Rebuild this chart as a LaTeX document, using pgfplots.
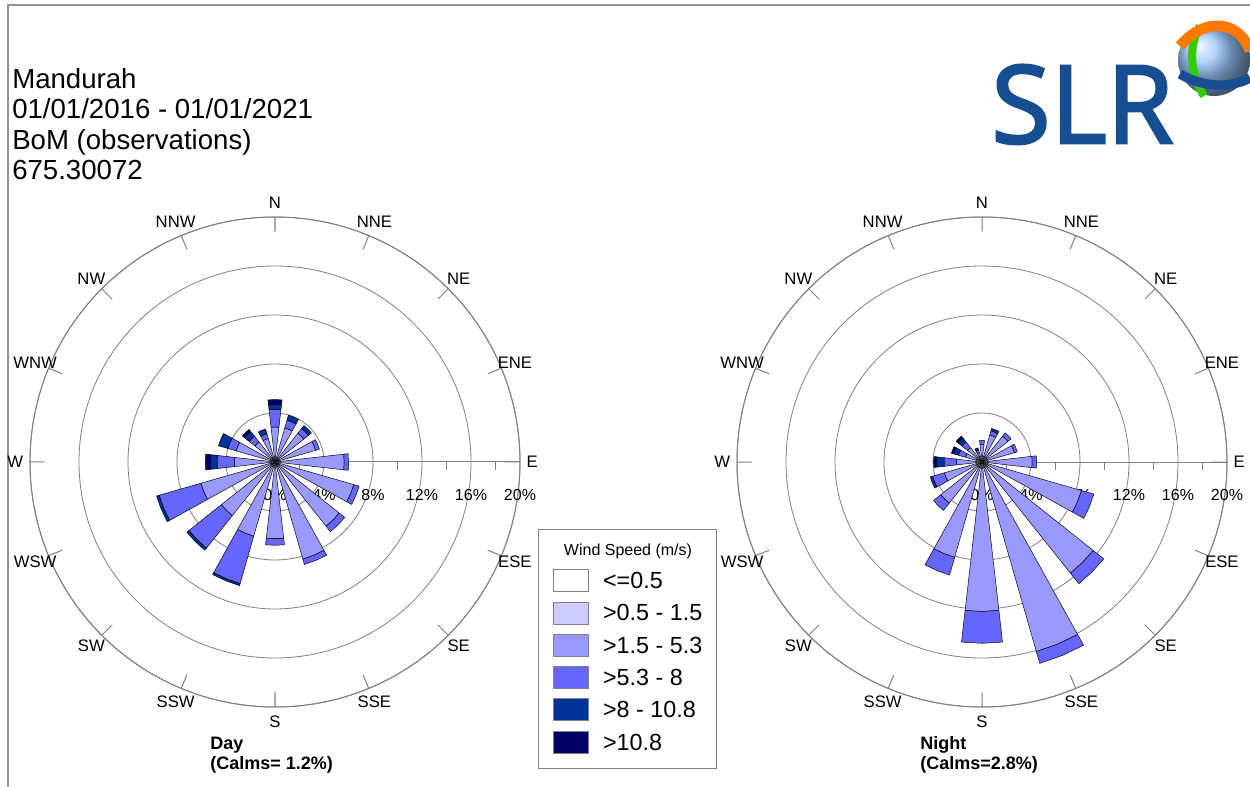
\documentclass[border=0pt]{standalone}
\usepackage{fontspec}
\setmainfont{Liberation Sans}
\newfontfamily\logofont{Open Sans}[FakeBold=2.5]
\usepackage{pgfplots}
\usepackage{pgfplotstable}
\pgfplotsset{compat=1.18}
\usepgfplotslibrary{polar}

% wind speed classes (m/s)
\definecolor{ws1}{RGB}{255,255,255}
\definecolor{ws2}{RGB}{204,204,255}
\definecolor{ws3}{RGB}{153,153,255}
\definecolor{ws4}{RGB}{102,102,255}
\definecolor{ws5}{RGB}{0,51,153}
\definecolor{ws6}{RGB}{0,0,102}
\definecolor{slrblue}{RGB}{22,78,145}

% cumulative frequency (%) per direction: z = start, c1..c5 = end of each speed class
\pgfplotstableread{
dir   z  c1   c2    c3    c4    c5
0     0  0.3  2.86  4.30  4.70  5.10
22.5  0  0.3  2.90  3.55  3.97  3.97
45    0  0.3  3.00  3.50  3.80  3.80
67.5  0  0.3  3.45  3.77  3.77  3.77
90    0  0.3  5.65  6.00  6.00  6.00
112.5 0  0.3  6.70  7.15  7.15  7.15
135   0  0.3  6.70  7.27  7.27  7.27
157.5 0  0.3  8.25  8.70  8.70  8.70
180   0  0.3  6.26  6.80  6.80  6.80
202.5 0  0.3  6.30  10.33 10.50 10.50
225   0  0.3  5.60  8.98  9.20  9.20
247.5 0  0.3  6.30  9.84  10.06 10.06
270   0  0.3  3.32  4.73  5.30  5.69
292.5 0  0.3  3.30  4.00  4.80  4.80
315   0  0.3  2.10  2.70  3.20  3.40
337.5 0  0.3  2.00  2.40  2.80  2.80
}\daytbl

\pgfplotstableread{
dir   z  c1   c2    c3    c4    c5
0     0  0.5  1.45  1.77  1.77  1.77
22.5  0  0.5  2.30  2.65  2.85  2.85
45    0  0.5  2.70  3.04  3.04  3.04
67.5  0  0.5  2.75  3.00  3.00  3.00
90    0  0.5  4.10  4.46  4.46  4.46
112.5 0  0.5  8.45  9.50  9.50  9.50
135   0  0.5  11.6  12.7  12.7  12.7
157.5 0  0.5  16.1  17.1  17.1  17.1
180   0  0.5  12.2  14.8  14.8  14.8
202.5 0  0.5  8.10  9.60  9.60  9.60
225   0  0.5  4.30  5.06  5.06  5.06
247.5 0  0.5  3.20  4.20  4.40  4.40
270   0  0.5  2.10  3.10  3.70  3.95
292.5 0  0.5  1.40  2.00  2.40  2.60
315   0  0.5  1.50  2.10  2.50  2.70
337.5 0  0.5  0.80  1.00  1.20  1.20
}\nighttbl

\pgfplotsset{
  petal/.style={draw=black, line width=0.35pt, line join=round, forget plot},
  rosebase/.style={
    scale only axis, width=367.5pt, height=367.5pt,
    anchor=center, clip=false,
    ymin=0, ymax=20,
    xtick={0,22.5,...,337.5},
    xticklabels={},
    ytick={0,4,8,12,16,20},
    yticklabel={\pgfmathprintnumber{\tick}\%},
    /pgf/number format/assume math mode=true,
    xmajorgrids=false, ymajorgrids=true,
    major grid style={gray, line width=0.6pt},
    axis line style={gray, line width=0.75pt},
    xtick style={gray, line width=0.75pt},
    ytick style={draw=none},
    major tick length=11pt, tick align=outside,
    yticklabel style={font=\fontsize{12}{14}\selectfont, anchor=north, yshift=-28pt},
  },
}
\tikzset{dirlab/.style={anchor=center, inner sep=0pt, font=\fontsize{12.5}{14}\selectfont}}

% one stacked segment of a petal: table, row, inner column, outer column, colour
\newcommand\roseseg[5]{%
  \pgfplotstablegetelem{#2}{dir}\of#1\pgfmathsetmacro\pa{90-\pgfplotsretval}%
  \pgfplotstablegetelem{#2}{#3}\of#1\let\rin\pgfplotsretval
  \pgfplotstablegetelem{#2}{#4}\of#1\let\rout\pgfplotsretval
  \pgfmathsetmacro\pl{\pa-6.5}%
  \pgfmathsetmacro\pr{\pa+6.5}%
  \pgfmathtruncatemacro\ok{\rout>\rin}%
  \ifnum\ok=1
    \edef\cmd{\noexpand\addplot[petal, fill=#5] coordinates {(\pl,\rin) (\pl,\rout) (\pa,\rout) (\pr,\rout) (\pr,\rin) (\pa,\rin)} -- cycle;}%
    \cmd
  \fi}

\newcommand\drawrose[1]{%
  % compass point names just outside the 20% ring
  \node[dirlab] at (axis cs:90,21.2) {N};
  \node[dirlab] at (axis cs:67.5,21.2) {NNE};
  \node[dirlab] at (axis cs:45,21.2) {NE};
  \node[dirlab] at (axis cs:22.5,21.2) {ENE};
  \node[dirlab] at (axis cs:0,21.0) {E};
  \node[dirlab] at (axis cs:-22.5,21.2) {ESE};
  \node[dirlab] at (axis cs:-45,21.2) {SE};
  \node[dirlab] at (axis cs:-67.5,21.2) {SSE};
  \node[dirlab] at (axis cs:-90,21.2) {S};
  \node[dirlab] at (axis cs:-112.5,21.2) {SSW};
  \node[dirlab] at (axis cs:-135,21.2) {SW};
  \node[dirlab] at (axis cs:-157.5,21.2) {WSW};
  \node[dirlab] at (axis cs:180,21.2) {W};
  \node[dirlab] at (axis cs:157.5,21.2) {WNW};
  \node[dirlab] at (axis cs:135,21.2) {NW};
  \node[dirlab] at (axis cs:112.5,21.2) {NNW};
  % radial scale line along east
  \draw[gray, line width=0.75pt] (axis cs:0,0) -- (axis cs:0,20);
  \pgfplotsinvokeforeach{2,6,10,14,18}{\draw[gray, line width=0.75pt] (axis cs:0,##1) -- ++(0pt,-6pt);}
  \pgfplotsforeachungrouped \i in {0,...,15}{%
    \roseseg{#1}{\i}{z}{c1}{ws2}%
    \roseseg{#1}{\i}{c1}{c2}{ws3}%
    \roseseg{#1}{\i}{c2}{c3}{ws4}%
    \roseseg{#1}{\i}{c3}{c4}{ws5}%
    \roseseg{#1}{\i}{c4}{c5}{ws6}%
  }}

\begin{document}
\begin{tikzpicture}[x=0.75pt, y=0.75pt]
\useasboundingbox (0,0) rectangle (1250,786);

% page frame
\draw[gray!85, line width=1.5pt] (8,-5) -- (8,781) -- (1255,781);

% header
\begin{scope}[every node/.style={anchor=base west, inner sep=0pt, font=\fontsize{20.7}{22}\selectfont}]
\node at (12,697) {Mandurah};
\node at (12,667) {01/01/2016 - 01/01/2021};
\node at (12,636) {BoM (observations)};
\node at (12,606) {675.30072};
\end{scope}

% logo
\node[anchor=base west, inner sep=0pt, text=slrblue, font=\logofont\fontsize{81}{81}\selectfont] at (991,643) {SLR};
\shade[ball color=cyan!45!blue!40!white] (1214,726) circle (36);
\draw[green!60!olive, line width=6pt] (1200,760) .. controls (1188,740) and (1190,712) .. (1204,690);
\draw[slrblue, line width=7pt] (1180,712) .. controls (1203,698) and (1232,698) .. (1250,708);
\draw[orange!95!red, line width=8pt] (1180,740) .. controls (1205,770) and (1240,765) .. (1250,735);

% day rose
\begin{polaraxis}[rosebase, at={(206.25pt,243pt)}]
\drawrose{\daytbl}
\end{polaraxis}

% night rose with the speed legend
\begin{polaraxis}[rosebase, at={(736.5pt,243pt)},
  legend style={at={(-0.3755,0.2816)}, anchor=north west, draw=none, fill=none,
    inner sep=0pt, row sep=7.1pt, column sep=10.5pt,
    font=\fontsize{17.5}{20}\selectfont,
    nodes={inner sep=0pt, text height=14.25pt, text depth=2.25pt}},
  legend cell align=left,
  legend image code/.code={\draw[#1, draw=gray, line width=0.6pt] (0pt,-8.25pt) rectangle (26.25pt,8.25pt);},
]
\addlegendimage{fill=ws1}\addlegendentry{<=0.5}
\addlegendimage{fill=ws2}\addlegendentry{>0.5 - 1.5}
\addlegendimage{fill=ws3}\addlegendentry{>1.5 - 5.3}
\addlegendimage{fill=ws4}\addlegendentry{>5.3 - 8}
\addlegendimage{fill=ws5}\addlegendentry{>8 - 10.8}
\addlegendimage{fill=ws6}\addlegendentry{>10.8}
\drawrose{\nighttbl}
\end{polaraxis}

% legend frame and title
\draw[gray, line width=0.75pt] (538,256) rectangle (716,18);
\node[font=\fontsize{12}{14}\selectfont] at (628,235) {Wind Speed (m/s)};

% captions
\begin{scope}[every node/.style={anchor=base west, inner sep=0pt, font=\bfseries\fontsize{13.5}{16}\selectfont}]
\node at (210,37) {Day};
\node at (210,17) {(Calms= 1.2\%)};
\node at (920,37) {Night};
\node at (920,17) {(Calms=2.8\%)};
\end{scope}
\end{tikzpicture}
\end{document}
